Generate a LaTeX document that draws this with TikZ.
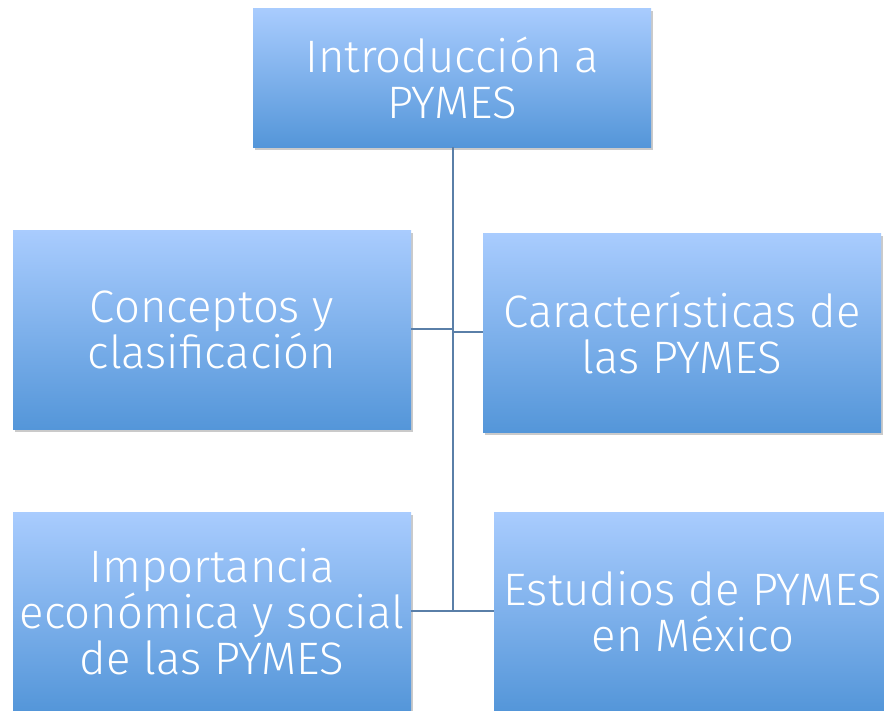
\documentclass[tikz,border=0pt]{standalone}
\usepackage{fontspec}
\setmainfont{Fira Sans Light}
\usetikzlibrary{shadows}
\definecolor{topblue}{HTML}{A9CCFE}
\definecolor{botblue}{HTML}{5496D9}
\definecolor{linecol}{HTML}{5A7FA8}
\tikzset{
  topicbox/.style={rectangle, minimum width=398pt, minimum height=199pt, inner sep=0pt,
    top color=topblue, bottom color=botblue, text=white, align=center,
    font=\fontsize{45.5}{46}\selectfont,
    drop shadow={shadow xshift=2pt, shadow yshift=-3pt, opacity=0.35, fill=black!60}},
  conn/.style={draw=linecol, line width=2.2pt}
}
\begin{document}
\begin{tikzpicture}[x=1pt,y=1pt]
\useasboundingbox (0,0) rectangle (884,-710);
\node[topicbox, minimum height=139pt] (top) at (452,-77.5) {Introducción a\\PYMES};
\node[topicbox] (cl) at (212,-329.5) {Conceptos y\\clasificación};
\node[topicbox] (cr) at (682,-332.5) {Características de\\las PYMES};
\node[topicbox] (il) at (212,-611.5) {Importancia\\económica y social\\de las PYMES};
\node[topicbox] (er) at (693,-611.5) {Estudios de PYMES\\en México};
\coordinate (j1) at (453,-329);
\coordinate (j2) at (453,-332);
\coordinate (j3) at (453,-611);
\draw[conn] (top.south -| j1) -- (j3);
\draw[conn] (cl.east |- j1) -- (j1);
\draw[conn] (j2) -- (cr.west |- j2);
\draw[conn] (il.east |- j3) -- (er.west |- j3);
\end{tikzpicture}
\end{document}
